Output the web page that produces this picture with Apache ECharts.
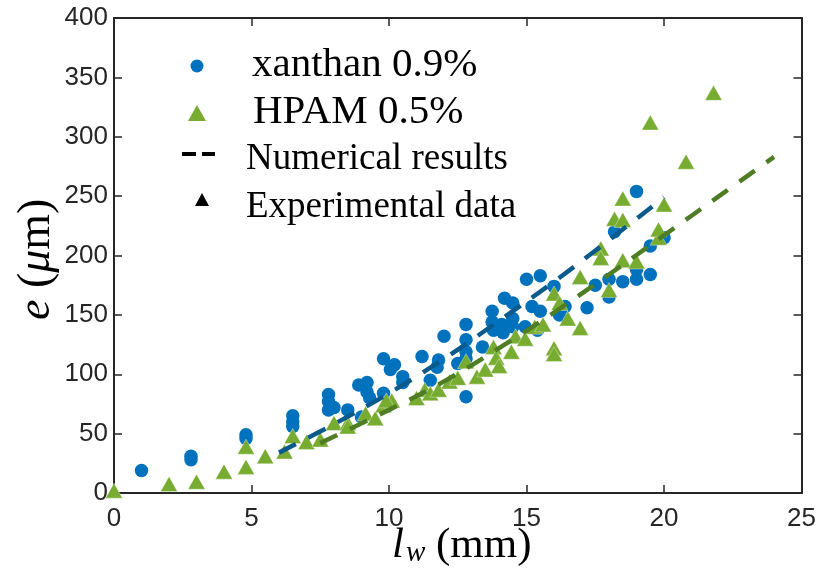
<!DOCTYPE html>
<html><head><meta charset="utf-8">
<script src="https://cdn.jsdelivr.net/npm/echarts@6/dist/echarts.min.js"></script>
<style>html,body{margin:0;padding:0;background:#fff}#c{width:819px;height:577px}</style>
</head><body><div id="c"></div>
<script>
// Experimental data: xanthan 0.9% (l_w in mm, e in µm)
const xanthanX = [1.0,2.8,2.8,4.8,4.8,6.5,6.5,6.5,7.8,7.8,7.8,8.0,8.5,8.9,9.2,9.2,9.3,9.0,
  9.8,10.05,9.8,10.2,10.5,10.5,11.2,11.8,11.75,11.5,12.0,12.8,12.8,12.8,12.8,12.5,12.8,
  13.4,13.75,13.75,13.8,14.15,14.2,14.5,14.5,14.5,14.1,14.95,15.0,15.5,15.2,15.5,15.4,16.0,
  16.2,16.4,17.2,17.5,18.0,18.0,18.5,19.0,19.0,19.5,18.2,19.0,19.5,20.0];
const xanthanY = [19,28,31,46,49,56,60,65,70,77,83,72,70,91,93,85,80,64,
  113,104,84,108,98,93,115,112,106,95,132,142,129,119,113,109,81,
  123,153,144,137,135,164,160,147,140,142,140,180,183,157,153,137,174,
  150,157,156,175,165,180,178,180,188,184,220,254,208,215];
// Experimental data: HPAM 0.5%
const hpamX = [0,2.0,3.0,4.0,4.8,4.8,5.5,6.2,6.5,7.0,7.5,8.0,8.5,8.5,9.15,9.5,9.8,10.1,9.9,
  11.0,11.3,11.5,11.8,12.2,12.5,12.8,13.2,13.5,13.8,13.9,14.0,14.45,14.6,14.95,
  15.3,15.6,16.0,16.2,16.0,16.0,16.5,16.95,16.95,18.0,17.7,17.7,18.5,19.0,19.8,
  18.5,18.2,18.5,20.0,19.8,21.8,19.5,20.8];
const hpamY = [2,7.5,9.5,18,22,39,31,35,48,43,45,59,59,56,67,63,74,78,78,
  80,87,84,87,94,97,111,98,104,123,114,107,119,132,130,
  140,142,168,160,122,117,147,139,182,171,206,198,196,195,215,
  248,231,230,243,222,337,312,279];
// Numerical results
const xanthanNumX = [6,8,10,12,14,16,18,20];
const xanthanNumY = [34,58,84,113,145,178,213,249];
const hpamNumX = [7.5,10,12,14,16,18,20,22,24];
const hpamNumY = [42,70,94,122,152,184,217,250,283];
// Axis ticks
const xTicks = [0,5,10,15,20,25];
const yTicks = [0,50,100,150,200,250,300,350,400];

const zip = (a,b) => a.map((v,i)=>[v,b[i]]);
const AX = '#262626';
const chart = echarts.init(document.getElementById('c'), null, {renderer:'canvas'});
const grid = {left:114, right:15, top:18, bottom:84};
const baseAxis = {
  axisLine:{show:true, onZero:false, lineStyle:{color:AX, width:2}},
  axisTick:{show:true, inside:true, length:8, lineStyle:{color:AX, width:1.5}},
  splitLine:{show:false}
};
const labelFont = {color:AX, fontFamily:'Liberation Sans, Arial, sans-serif', fontSize:26};
const serif = 'Liberation Serif, Times New Roman, serif';
chart.setOption({
  animation:false,
  backgroundColor:'#fff',
  grid,
  xAxis:[
    Object.assign({type:'value', position:'bottom', min:xTicks[0], max:xTicks[xTicks.length-1], interval:5,
      axisLabel:Object.assign({margin:13}, labelFont)}, baseAxis),
    Object.assign({type:'value', position:'top', min:xTicks[0], max:xTicks[xTicks.length-1], interval:5,
      axisLabel:{show:false}}, baseAxis)
  ],
  yAxis:[
    Object.assign({type:'value', position:'left', min:yTicks[0], max:yTicks[yTicks.length-1], interval:50,
      axisLabel:Object.assign({margin:6}, labelFont)}, baseAxis),
    Object.assign({type:'value', position:'right', min:yTicks[0], max:yTicks[yTicks.length-1], interval:50,
      axisLabel:{show:false}}, baseAxis)
  ],
  series:[
    {type:'scatter', name:'xanthan 0.9%', data:zip(xanthanX,xanthanY), symbol:'circle', symbolSize:13.5,
      clip:false, z:2, itemStyle:{color:'#0072BD', opacity:1}},
    {type:'scatter', name:'HPAM 0.5%', data:zip(hpamX,hpamY), symbol:'triangle', symbolSize:[17,15],
      clip:false, z:3, itemStyle:{color:'#77AC30', borderColor:'rgba(255,255,255,0.6)', borderWidth:0.6, opacity:1}},
    {type:'line', data:zip(xanthanNumX,xanthanNumY), smooth:0.4, showSymbol:false, symbol:'none', z:4,
      lineStyle:{color:'#0B5A8C', width:4.5, type:[19,14], cap:'butt'}},
    {type:'line', data:zip(hpamNumX,hpamNumY), smooth:0.4, showSymbol:false, symbol:'none', z:5,
      lineStyle:{color:'#4E7D24', width:4.5, type:[19,14], cap:'butt'}}
  ],
  graphic:[
    // legend
    {type:'circle', shape:{cx:197, cy:66, r:6.5}, style:{fill:'#0072BD'}, z:10},
    {type:'polygon', shape:{points:[[188,121],[206,121],[197,105]]}, style:{fill:'#77AC30'}, z:10},
    {type:'rect', shape:{x:182, y:152, width:14, height:4}, style:{fill:'#000'}, z:10},
    {type:'rect', shape:{x:202, y:152, width:13, height:4}, style:{fill:'#000'}, z:10},
    {type:'polygon', shape:{points:[[195,206],[209,206],[202,193]]}, style:{fill:'#000'}, z:10},
    {type:'text', left:252, top:45, z:10, style:{text:'xanthan 0.9%', font:'41px '+serif, fill:'#000'}},
    {type:'text', left:253, top:92, z:10, style:{text:'HPAM 0.5%', font:'41px '+serif, fill:'#000'}},
    {type:'text', left:246, top:141, z:10, style:{text:'Numerical results', font:'37px '+serif, fill:'#000'}},
    {type:'text', left:246, top:189, z:10, style:{text:'Experimental data', font:'37px '+serif, fill:'#000'}},
    // axis titles
    {type:'text', left:392, top:524, z:10, style:{
      text:'{i|l}{s|w} (mm)', font:'43px '+serif, fill:'#000',
      rich:{i:{fontFamily:serif, fontSize:43, fontStyle:'italic'}, s:{fontFamily:serif, fontSize:29, fontStyle:'italic', padding:[16,0,0,2]}}}},
    {type:'text', x:14, y:320, rotation:Math.PI/2, z:10, style:{
      text:'{i|e} ({i|\u03bc}m)', font:'46px '+serif, fill:'#000',
      rich:{i:{fontFamily:serif, fontSize:46, fontStyle:'italic'}}}}
  ]
});
</script>
</body></html>
